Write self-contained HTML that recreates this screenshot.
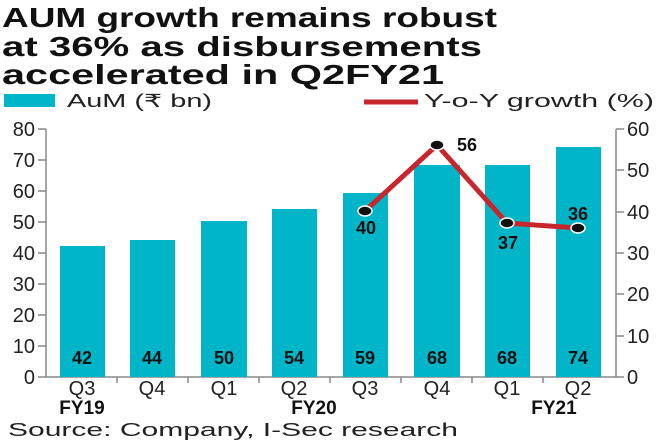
<!DOCTYPE html>
<html><head><meta charset="utf-8"><style>html,body{margin:0;padding:0;background:#fff}svg{display:block}</style></head>
<body>
<svg width="660" height="440" viewBox="0 0 660 440" xmlns="http://www.w3.org/2000/svg" font-family="Liberation Sans, DejaVu Sans, sans-serif">
<g font-weight="bold" font-size="28" fill="#111">
<text x="2" y="27" textLength="495" lengthAdjust="spacingAndGlyphs">AUM growth remains robust</text>
<text x="2" y="56" textLength="480" lengthAdjust="spacingAndGlyphs">at 36% as disbursements</text>
<text x="2" y="84" textLength="442" lengthAdjust="spacingAndGlyphs">accelerated in Q2FY21</text>
</g>
<rect x="4" y="94" width="51" height="13" fill="#00b5c8"/>
<text x="67" y="107" font-size="18" fill="#222" textLength="145" lengthAdjust="spacingAndGlyphs">AuM (₹ bn)</text>
<line x1="364" y1="102" x2="418" y2="102" stroke="#c8262d" stroke-width="5"/>
<text x="424" y="107" font-size="18" fill="#222" textLength="230" lengthAdjust="spacingAndGlyphs">Y-o-Y growth (%)</text>
<g stroke="#888" stroke-width="1.5" fill="none">
<line x1="46" y1="129" x2="46" y2="377"/>
<line x1="616" y1="129" x2="616" y2="377"/>
<line x1="38" y1="377" x2="624" y2="377"/>
</g>
<g stroke="#888" stroke-width="1.5">
<line x1="38" y1="129" x2="46" y2="129"/><line x1="38" y1="160" x2="46" y2="160"/><line x1="38" y1="191" x2="46" y2="191"/><line x1="38" y1="222" x2="46" y2="222"/><line x1="38" y1="253" x2="46" y2="253"/><line x1="38" y1="284" x2="46" y2="284"/><line x1="38" y1="315" x2="46" y2="315"/><line x1="38" y1="346" x2="46" y2="346"/>
<line x1="616" y1="129" x2="624" y2="129"/><line x1="616" y1="170" x2="624" y2="170"/><line x1="616" y1="212" x2="624" y2="212"/><line x1="616" y1="253" x2="624" y2="253"/><line x1="616" y1="294" x2="624" y2="294"/><line x1="616" y1="336" x2="624" y2="336"/>
<line x1="117" y1="377" x2="117" y2="383"/><line x1="188" y1="377" x2="188" y2="383"/><line x1="259" y1="377" x2="259" y2="383"/><line x1="330" y1="377" x2="330" y2="383"/><line x1="401" y1="377" x2="401" y2="383"/><line x1="472" y1="377" x2="472" y2="383"/><line x1="543" y1="377" x2="543" y2="383"/>
</g>
<g font-size="20" fill="#222" text-anchor="end">
<text x="35" y="136">80</text><text x="35" y="167">70</text><text x="35" y="198">60</text><text x="35" y="229">50</text><text x="35" y="260">40</text><text x="35" y="291">30</text><text x="35" y="322">20</text><text x="35" y="353">10</text><text x="35" y="384">0</text>
</g>
<g font-size="20" fill="#222">
<text x="627" y="136">60</text><text x="627" y="177">50</text><text x="627" y="219">40</text><text x="627" y="260">30</text><text x="627" y="301">20</text><text x="627" y="343">10</text><text x="627" y="384">0</text>
</g>
<g fill="#00b5c8">
<rect x="60" y="246" width="45" height="131"/>
<rect x="130" y="240" width="45" height="137"/>
<rect x="201" y="221" width="46" height="156"/>
<rect x="272" y="209" width="45" height="168"/>
<rect x="343" y="193" width="45" height="184"/>
<rect x="414" y="165" width="46" height="212"/>
<rect x="485" y="165" width="45" height="212"/>
<rect x="556" y="147" width="45" height="230"/>
</g>
<g font-size="18" font-weight="bold" fill="#111" text-anchor="middle">
<text x="82" y="364">42</text><text x="152" y="364">44</text><text x="224" y="364">50</text><text x="294" y="364">54</text><text x="365" y="364">59</text><text x="437" y="364">68</text><text x="507" y="364">68</text><text x="578" y="364">74</text>
</g>
<polyline points="365,211 437,145 507,223 578,228" fill="none" stroke="#c8262d" stroke-width="5" stroke-linejoin="round"/>
<g fill="#111" stroke="#fff" stroke-width="1.5">
<ellipse cx="365" cy="211" rx="7" ry="5"/><ellipse cx="437" cy="145" rx="7" ry="5"/><ellipse cx="507" cy="223" rx="7" ry="5"/><ellipse cx="578" cy="228" rx="7" ry="5"/>
</g>
<g font-size="18" font-weight="bold" fill="#111" text-anchor="middle">
<text x="366" y="234">40</text><text x="467" y="151">56</text><text x="508" y="249">37</text><text x="578" y="220">36</text>
</g>
<g font-size="20" fill="#222" text-anchor="middle">
<text x="82" y="395">Q3</text><text x="152" y="395">Q4</text><text x="224" y="395">Q1</text><text x="294" y="395">Q2</text><text x="365" y="395">Q3</text><text x="437" y="395">Q4</text><text x="507" y="395">Q1</text><text x="578" y="395">Q2</text>
</g>
<g font-size="19" font-weight="bold" fill="#111" text-anchor="middle">
<text x="82" y="414">FY19</text><text x="314" y="414">FY20</text><text x="554" y="414">FY21</text>
</g>
<text x="8" y="436" font-size="18" fill="#222" textLength="450" lengthAdjust="spacingAndGlyphs">Source: Company, I-Sec research</text>
</svg>
</body></html>
